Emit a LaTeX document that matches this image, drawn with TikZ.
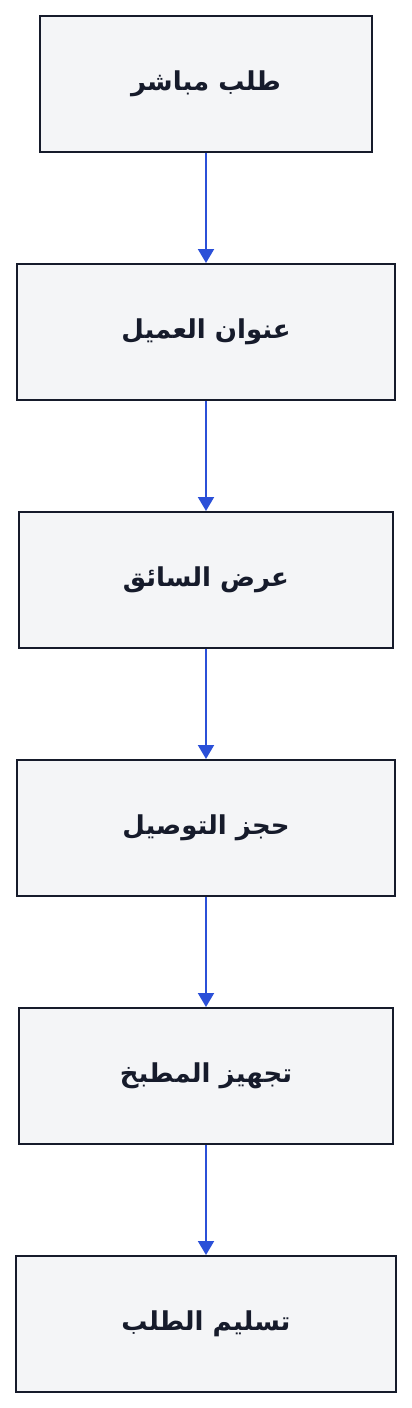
\documentclass[tikz,border=0pt]{standalone}
\usepackage{fontspec}
\newfontfamily\arabicfont[Script=Arabic]{DejaVu Sans}
\TeXXeTstate=1
\usetikzlibrary{arrows.meta}
\definecolor{boxfill}{HTML}{F4F5F7}
\definecolor{boxline}{HTML}{161B2B}
\definecolor{flowblue}{HTML}{2B50D8}

\begin{document}
\begin{tikzpicture}[x=1pt, y=-1pt
        , stepbox/.style={ draw=boxline, fill=boxfill, line width=2pt, text=boxline,
            minimum height=136pt, inner sep=0pt,
            font=\arabicfont\bfseries\fontsize{26}{30}\selectfont }
        , flow/.style={ draw=flowblue, line width=2pt, -{Triangle[width=16pt,length=14pt]} }
        ]
        \useasboundingbox (0,0) rectangle (412,1408);

        % the six steps, top to bottom
        \foreach \n/\w/\t in {1/332/طلب مباشر, 2/378/عنوان العميل, 3/374/عرض السائق,
                4/378/حجز التوصيل, 5/374/تجهيز المطبخ, 6/380/تسليم الطلب}
            \node[stepbox, minimum width=\w pt] (s\n) at (206,{84+248*(\n-1)}) {\beginR\t\endR};

        % each step leads to the next one
        \foreach \a/\b in {1/2,2/3,3/4,4/5,5/6}
            \draw[flow] (s\a) -- (s\b);

\end{tikzpicture}
\end{document}
